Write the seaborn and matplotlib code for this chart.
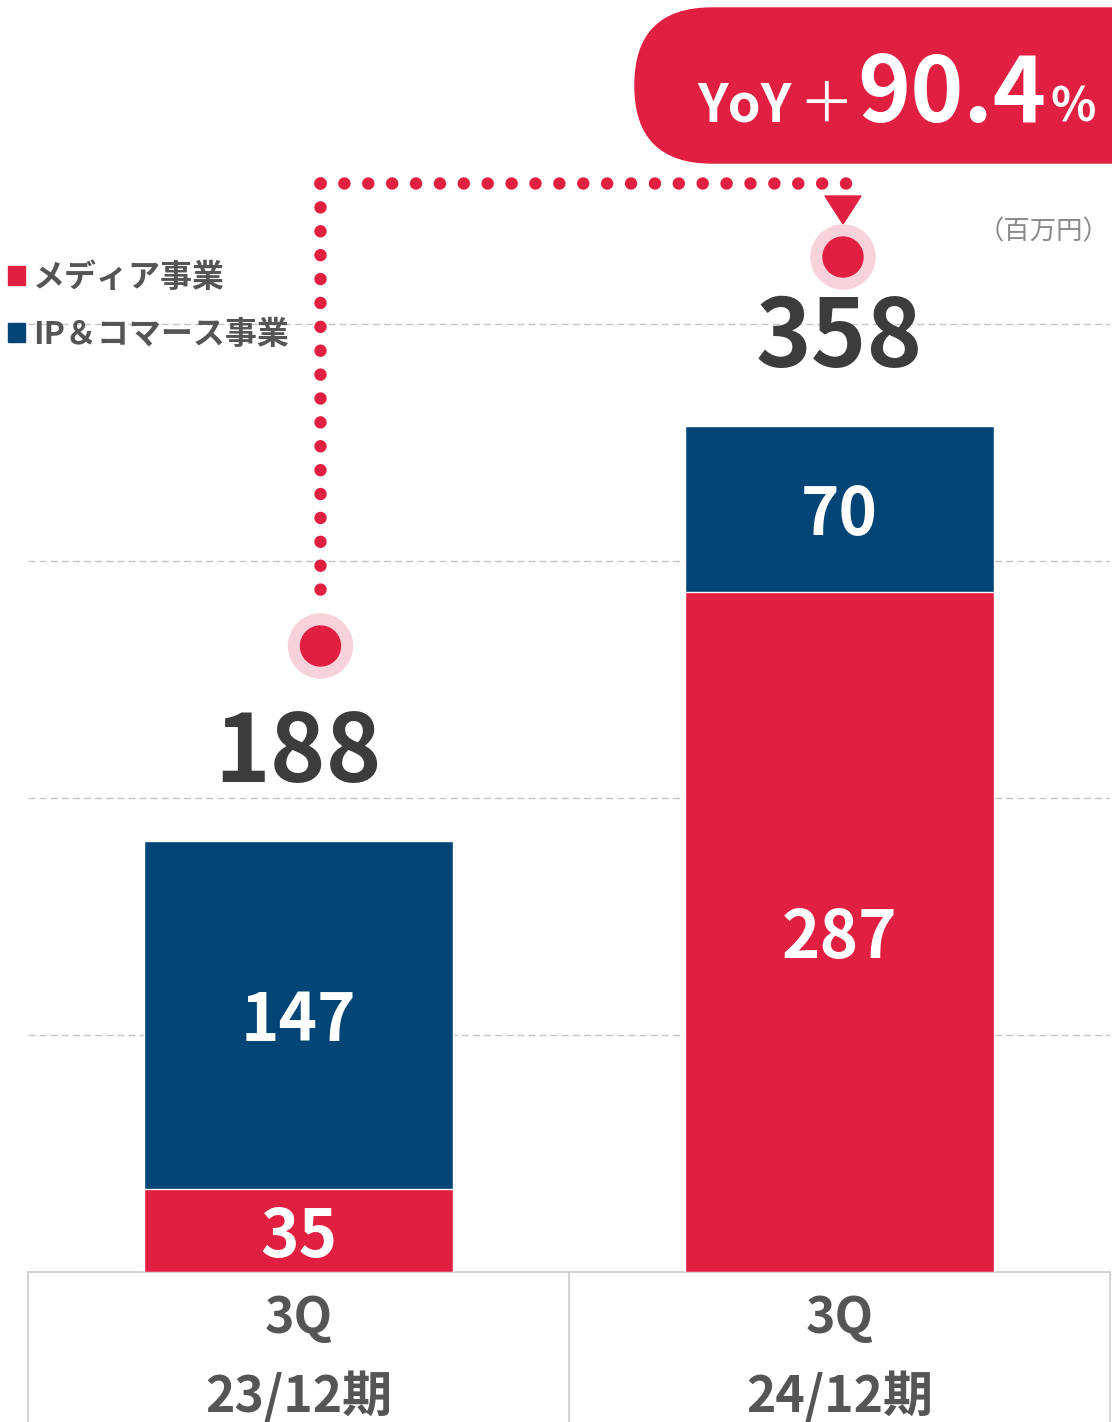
import numpy as np
import pandas as pd
import matplotlib
matplotlib.use('Agg')
import matplotlib.pyplot as plt
import seaborn as sns
from matplotlib.patches import Patch, Circle, FancyBboxPatch, Polygon

# ---- data ----
periods = ['23/12期', '24/12期']
quarters = ['3Q', '3Q']
media = [35, 287]
ip_commerce = [147, 70]
totals = [188, 358]
series_names = ['メディア事業', 'IP＆コマース事業']
yoy_value = '90.4'
unit_label = '（百万円）'

RED = '#E01F41'
NAVY = '#004575'
PINK = '#F8D2DA'
DARK = '#3C3C3C'
GRAY = '#555555'

sns.set_theme(style='white')
plt.rcParams['font.family'] = ['Noto Sans CJK JP', 'DejaVu Sans']

W, H = 1112, 1422
fig = plt.figure(figsize=(W / 100, H / 100), dpi=100)
base_px = 1272
ax = fig.add_axes([28 / W, (H - base_px) / H, (1110 - 28) / W, base_px / H])
PX_PER_UNIT = 2.37
ax.set_ylim(0, base_px / PX_PER_UNIT)

df = pd.DataFrame({'period': periods, 'media': media, 'ip': ip_commerce})
df['stack'] = df['media'] + df['ip']
sns.barplot(data=df, x='period', y='stack', color=NAVY, width=0.57, ax=ax,
            saturation=1, zorder=2)
sns.barplot(data=df, x='period', y='media', color=RED, width=0.57, ax=ax,
            saturation=1, zorder=3)
ax.set_xlim(-0.5, 1.5)
ax.set_xlabel('')
ax.set_ylabel('')

ax.set_yticks([100, 200, 300, 400])
ax.yaxis.grid(True, linestyle=(0, (5, 3)), color='#c4c4c4', lw=1)
ax.set_axisbelow(True)
ax.tick_params(axis='y', left=False, labelleft=False)
for s in ['left', 'right', 'top']:
    ax.spines[s].set_visible(False)
ax.spines['bottom'].set_color('#cccccc')
ax.spines['bottom'].set_linewidth(1.2)
ax.set_xticks([0, 1])
ax.set_xticklabels([f'{q}\n{p}' for q, p in zip(quarters, periods)],
                   fontsize=36, color=GRAY, linespacing=1.68, fontweight='bold')
ax.tick_params(axis='x', bottom=False, pad=9)

for i in range(len(periods)):
    m, p = media[i], ip_commerce[i]
    ax.text(i, m / 2, str(m), ha='center', va='center_baseline', color='white',
            fontsize=47, fontweight='bold', zorder=5)
    ax.text(i, m + p / 2, str(p), ha='center', va='center_baseline', color='white',
            fontsize=47, fontweight='bold', zorder=5)
    ax.annotate(str(totals[i]), xy=(i, m + p), xytext=(0, 42.5),
                textcoords='offset points', ha='center', va='baseline',
                fontsize=68, fontweight='bold', color=DARK)

# ---- overlay (pixel coordinates) ----
ov = fig.add_axes([0, 0, 1, 1])
ov.set_xlim(0, W)
ov.set_ylim(H, 0)
ov.axis('off')
ov.patch.set_alpha(0)

# table lines under x axis
for xv in [28, 569, 1110]:
    ov.plot([xv, xv], [base_px, H], color='#cccccc', lw=1.2)

# dotted connector
dot_style = dict(color=RED, lw=9, linestyle=(0, (0.001, 1.91)), dash_capstyle='round')
ov.plot([320, 320], [183, 600], **dot_style)
ov.plot([320, 852], [183, 183], **dot_style)
ov.add_patch(Polygon([(825, 196), (861, 196), (843, 224)], closed=True, color=RED))
for cx, cy in [(320.5, 646), (843, 257)]:
    ov.add_patch(Circle((cx, cy), 32, color=PINK))
    ov.add_patch(Circle((cx, cy), 20, color=RED))

# YoY badge
ov.add_patch(FancyBboxPatch((635, 8), 620, 155,
                            boxstyle='round,pad=0,rounding_size=77', color=RED))
ov.text(697, 122, 'YoY', fontsize=38, fontweight='bold', color='white',
        ha='left', va='baseline')
ov.text(798, 122, '＋', fontsize=40, color='white', ha='left', va='baseline')
ov.text(857, 122, yoy_value, fontsize=65, fontweight='bold', color='white',
        ha='left', va='baseline')
ov.text(1050, 122, '%', fontsize=34, fontweight='bold', color='white',
        ha='left', va='baseline')

ov.text(1110, 232, unit_label, fontsize=19, color='#8a8a8a', ha='right', va='center')

handles = [Patch(color=RED, label=series_names[0]),
           Patch(color=NAVY, label=series_names[1])]
leg = fig.legend(handles=handles, loc='upper left',
                 bbox_to_anchor=(8 / W, 1 - 262 / H), bbox_transform=fig.transFigure,
                 frameon=False, fontsize=23, borderpad=0, borderaxespad=0,
                 handlelength=0.54, handleheight=0.54, handletextpad=0.25,
                 labelspacing=0.78)
for t in leg.get_texts():
    t.set_color(GRAY)
    t.set_fontweight('bold')

fig.savefig('out.png', dpi=100)
